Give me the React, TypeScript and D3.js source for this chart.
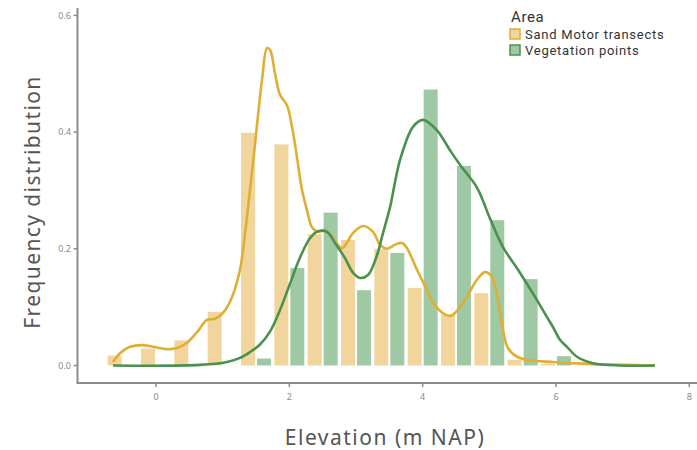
import React from "react";
import * as d3 from "d3";

const binCenters = [-0.5, 0, 0.5, 1, 1.5, 2, 2.5, 3, 3.5, 4, 4.5, 5, 5.5, 6];
const sandBars = [0.017, 0.029, 0.043, 0.092, 0.399, 0.379, 0.225, 0.215, 0.2, 0.133, 0.087, 0.124, 0.01, 0.003];
const vegBars = [0, 0, 0, 0, 0.012, 0.167, 0.262, 0.129, 0.193, 0.473, 0.342, 0.249, 0.148, 0.016];

const sandDensityX = [-0.645, -0.54, -0.39, -0.21, -0.045, 0.165, 0.315, 0.465, 0.615, 0.765, 0.885, 1.005, 1.14, 1.26, 1.305, 1.455, 1.59, 1.665, 1.71, 1.785, 1.86, 1.965, 2.04, 2.115, 2.19, 2.265, 2.34, 2.43, 2.535, 2.655, 2.79, 2.955, 3.105, 3.255, 3.36, 3.465, 3.585, 3.69, 3.765, 3.915, 4.065, 4.155, 4.41, 4.605, 4.815, 4.935, 5.04, 5.13, 5.205, 5.28, 5.415, 5.61, 5.955, 6.21, 6.66, 7.485];
const sandDensityY = [0.006, 0.021, 0.032, 0.035, 0.032, 0.028, 0.03, 0.039, 0.057, 0.078, 0.08, 0.09, 0.117, 0.164, 0.198, 0.347, 0.489, 0.544, 0.541, 0.501, 0.464, 0.446, 0.409, 0.357, 0.301, 0.266, 0.237, 0.229, 0.232, 0.219, 0.201, 0.227, 0.239, 0.229, 0.207, 0.2, 0.207, 0.21, 0.201, 0.164, 0.129, 0.107, 0.085, 0.107, 0.147, 0.16, 0.152, 0.112, 0.061, 0.03, 0.015, 0.009, 0.006, 0.004, 0.002, 0];

const vegDensityX = [-0.645, 0.66, 1.065, 1.26, 1.41, 1.56, 1.71, 1.86, 2.01, 2.16, 2.31, 2.43, 2.565, 2.685, 2.835, 2.955, 3.06, 3.18, 3.315, 3.405, 3.51, 3.66, 3.855, 4.005, 4.215, 4.41, 4.56, 4.815, 5.01, 5.205, 5.46, 5.715, 5.865, 5.955, 6.06, 6.165, 6.315, 6.555, 6.96, 7.485];
const vegDensityY = [0, 0.001, 0.006, 0.013, 0.023, 0.036, 0.058, 0.095, 0.14, 0.185, 0.218, 0.23, 0.229, 0.21, 0.184, 0.159, 0.15, 0.155, 0.189, 0.227, 0.271, 0.352, 0.409, 0.421, 0.403, 0.369, 0.344, 0.305, 0.252, 0.203, 0.159, 0.112, 0.083, 0.066, 0.044, 0.032, 0.015, 0.004, 0, 0];

const xTicks = [0, 2, 4, 6, 8];
const yTicks = [0, 0.2, 0.4, 0.6];
const legendLabels = ["Sand Motor transects", "Vegetation points"];

const W = 697;
const H = 450;

export default function App() {
  const x = d3.scaleLinear().domain([0, 8]).range([156, 689.3]);
  const y = d3.scaleLinear().domain([0, 0.6]).range([365.5, 15.4]);

  const barW = x(0.21) - x(0);
  const gap = x(0.015) - x(0);

  const line = d3
    .line<[number, number]>()
    .x((d) => x(d[0]))
    .y((d) => y(d[1]))
    .curve(d3.curveCatmullRom.alpha(0.5));

  const sandPts: [number, number][] = sandDensityX.map((v, i) => [v, sandDensityY[i]]);
  const vegPts: [number, number][] = vegDensityX.map((v, i) => [v, vegDensityY[i]]);

  const sandFill = "#f2d59d";
  const vegFill = "#9fc8a4";
  const sandLine = "#e0ae35";
  const vegLine = "#4a9150";
  const axisCol = "#8c8c8c";
  const tickText = "#8a8a8a";
  const titleCol = "#555555";
  const font = "'Noto Sans', 'DejaVu Sans', sans-serif";
  const legFont = "Roboto, 'Noto Sans', sans-serif";

  return (
    <div style={{ position: "absolute", left: 0, top: 0 }}>
      <svg width={W} height={H} style={{ display: "block", background: "#ffffff" }}>
        {/* bars */}
        {binCenters.map((c, i) =>
          sandBars[i] > 0 ? (
            <rect
              key={"s" + i}
              x={x(c) - gap - barW}
              y={y(sandBars[i])}
              width={barW}
              height={y(0) - y(sandBars[i])}
              fill={sandFill}
            />
          ) : null
        )}
        {binCenters.map((c, i) =>
          vegBars[i] > 0 ? (
            <rect
              key={"v" + i}
              x={x(c) + gap}
              y={y(vegBars[i])}
              width={barW}
              height={y(0) - y(vegBars[i])}
              fill={vegFill}
            />
          ) : null
        )}
        {/* density lines */}
        <path d={line(sandPts) || ""} fill="none" stroke={sandLine} strokeWidth={2.6} strokeLinejoin="round" />
        <path d={line(vegPts) || ""} fill="none" stroke={vegLine} strokeWidth={2.6} strokeLinejoin="round" />

        {/* axes */}
        <line x1={77.5} x2={77.5} y1={8} y2={383} stroke={axisCol} strokeWidth={2} />
        <line x1={76.5} x2={W} y1={383} y2={383} stroke={axisCol} strokeWidth={2} />
        {yTicks.map((t) => (
          <g key={"yt" + t}>
            <line x1={73.5} x2={77} y1={y(t)} y2={y(t)} stroke={axisCol} strokeWidth={1.5} />
            <text x={71} y={y(t)} dy="0.35em" textAnchor="end" fontSize={9} fill={tickText} fontFamily={font}>
              {d3.format(".1f")(t)}
            </text>
          </g>
        ))}
        {xTicks.map((t) => (
          <g key={"xt" + t}>
            <line x1={x(t)} x2={x(t)} y1={383} y2={387} stroke={axisCol} strokeWidth={1.5} />
            <text x={x(t)} y={397} dy="0.35em" textAnchor="middle" fontSize={9} fill={tickText} fontFamily={font}>
              {t}
            </text>
          </g>
        ))}

        {/* axis titles */}
        <text
          transform={`translate(40, 202) rotate(-90)`}
          textAnchor="middle"
          fontSize={21}
          fill={titleCol}
          fontFamily={font}
          letterSpacing={1.4}
        >
          Frequency distribution
        </text>
        <text x={385} y={445} textAnchor="middle" fontSize={21} fill={titleCol} fontFamily={font} letterSpacing={1.5}>
          Elevation (m NAP)
        </text>

        {/* legend */}
        <text x={511} y={22} fontSize={15} fill="#333" fontFamily={legFont} letterSpacing={0.6}>
          Area
        </text>
        {legendLabels.map((lab, i) => (
          <g key={lab}>
            <rect
              x={510}
              y={29 + i * 16}
              width={10}
              height={10}
              fill={i === 0 ? sandFill : vegFill}
              stroke={i === 0 ? sandLine : vegLine}
              strokeWidth={1.5}
            />
            <text x={525} y={38.5 + i * 16} fontSize={13} fill="#333" fontFamily={legFont} letterSpacing={0.75}>
              {lab}
            </text>
          </g>
        ))}
      </svg>
    </div>
  );
}
